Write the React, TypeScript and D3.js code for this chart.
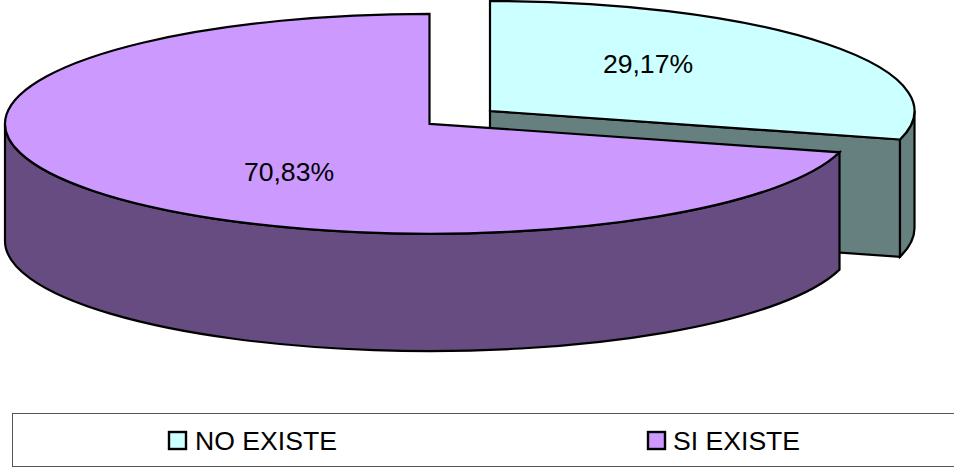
import React from "react";
import * as d3 from "d3";

const categories = ["NO EXISTE", "SI EXISTE"];
const values = [29.17, 70.83];
const valueLabels = ["29,17%", "70,83%"];
const topColors = ["#CCFFFF", "#CC99FF"];
const sideColors = ["#668080", "#664C80"];

const W = 954, H = 468;
const RX = 424.5, RY = 110, DEPTH = 117.3;
const centers = [{ x: 490, y: 111 }, { x: 429.5, y: 123.8 }];
const labelPos = [{ x: 648, y: 64 }, { x: 289, y: 172 }];
const legendX = [{ box: 169, text: 195 }, { box: 648, text: 673 }];

const pie = d3.pie<number>().sort(null).startAngle(0).endAngle(2 * Math.PI);
const arcs = pie(values);

function pt(c: { x: number; y: number }, a: number, dy = 0) {
  return [c.x + RX * Math.sin(a), c.y - RY * Math.cos(a) + dy] as [number, number];
}
const arcTo = (p: [number, number], large: boolean, sweep: boolean) =>
  `A${RX},${RY} 0 ${large ? 1 : 0} ${sweep ? 1 : 0} ${p[0]},${p[1]}`;

function topPath(i: number) {
  const c = centers[i], a = arcs[i];
  const s = pt(c, a.startAngle), e = pt(c, a.endAngle);
  return `M${c.x},${c.y}L${s[0]},${s[1]}${arcTo(e, a.endAngle - a.startAngle > Math.PI, true)}Z`;
}
function cutPath(c: { x: number; y: number }, a: number) {
  const e = pt(c, a), e2 = pt(c, a, DEPTH);
  return `M${c.x},${c.y}L${e[0]},${e[1]}L${e2[0]},${e2[1]}L${c.x},${c.y + DEPTH}Z`;
}
function wallPath(c: { x: number; y: number }, from: number, to: number) {
  const s = pt(c, from), e = pt(c, to), e2 = pt(c, to, DEPTH), s2 = pt(c, from, DEPTH);
  const large = Math.abs(to - from) > Math.PI;
  return `M${s[0]},${s[1]}${arcTo(e, large, true)}L${e2[0]},${e2[1]}${arcTo(s2, large, false)}Z`;
}

export default function App() {
  const sw = 2.2;
  return (
    <svg width={W} height={H} style={{ position: "absolute", left: 0, top: 0, background: "#fff" }}>
      <g stroke="#000" strokeWidth={sw} strokeLinejoin="miter">
        {/* NO EXISTE slice */}
        <path d={cutPath(centers[0], arcs[0].endAngle)} fill={sideColors[0]} />
        <path d={wallPath(centers[0], Math.PI / 2, arcs[0].endAngle)} fill={sideColors[0]} />
        <path d={topPath(0)} fill={topColors[0]} />
        {/* SI EXISTE slice */}
        <path d={wallPath(centers[1], arcs[1].startAngle, Math.PI * 1.5)} fill={sideColors[1]} />
        <path d={topPath(1)} fill={topColors[1]} />
      </g>
      <g fontFamily="'Liberation Sans', Arial, sans-serif" fontSize={26.6} fill="#000">
        {valueLabels.map((t, i) => (
          <text key={t} x={labelPos[i].x} y={labelPos[i].y} textAnchor="middle" dominantBaseline="central">{t}</text>
        ))}
        <rect x={12.5} y={413.5} width={W} height={53} fill="none" stroke="#555" strokeWidth={1} />
        {categories.map((t, i) => (
          <g key={t}>
            <rect x={legendX[i].box} y={432} width={17} height={17} fill={topColors[i]} stroke="#000" strokeWidth={2.4} />
            <text x={legendX[i].text} y={450}>{t}</text>
          </g>
        ))}
      </g>
    </svg>
  );
}
